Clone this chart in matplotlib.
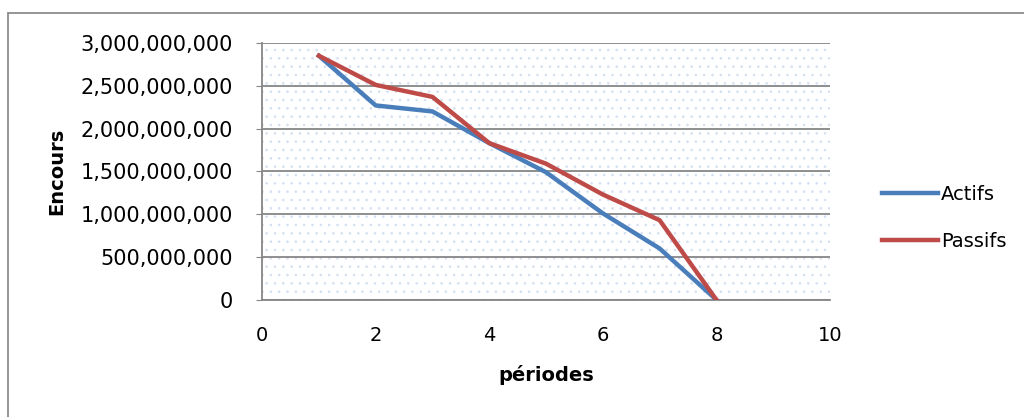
import matplotlib.pyplot as plt
from matplotlib.patches import Rectangle
from matplotlib.ticker import FuncFormatter

periodes = [1, 2, 3, 4, 5, 6, 7, 8]
actifs = [2.85e9, 2.27e9, 2.20e9, 1.83e9, 1.49e9, 1.01e9, 0.60e9, 0]
passifs = [2.85e9, 2.51e9, 2.37e9, 1.83e9, 1.59e9, 1.23e9, 0.93e9, 0]

plt.rcParams['font.family'] = ['DejaVu Sans']
plt.rcParams['hatch.linewidth'] = 0.6

fig = plt.figure(figsize=(10.24, 4.17), dpi=100)
ax = fig.add_axes([0.256, 0.281, 0.5545, 0.616])

# outer chart border (only top and left edges are inside the picture)
fig.patches.append(Rectangle((8 / 1024, -0.1), 1.2, 1.1 - 13 / 417,
                             transform=fig.transFigure, fill=False,
                             edgecolor='#8c8c8c', linewidth=1.3))

# dotted background of the plot area
ax.add_patch(Rectangle((0, 0), 1, 1, transform=ax.transAxes, facecolor='white',
                       edgecolor='#d3dff0', hatch='..', linewidth=0, zorder=0))

ax.plot(periodes, actifs, color='#4a7ebb', linewidth=3.2, label='Actifs', zorder=3)
ax.plot(periodes, passifs, color='#be4b48', linewidth=3.2, label='Passifs', zorder=3)

ax.set_xlim(0, 10)
ax.set_ylim(0, 3e9)
ax.set_xticks([0, 2, 4, 6, 8, 10])
ax.set_yticks([i * 5e8 for i in range(7)])
ax.yaxis.set_major_formatter(FuncFormatter(lambda v, p: f'{int(v):,}'))
ax.tick_params(axis='x', length=0, labelsize=14, pad=19)
ax.tick_params(axis='y', length=4, color='#868686', labelsize=15, pad=17)
ax.grid(axis='y', color='#868686', linewidth=1.3)
ax.set_axisbelow(True)

for s in ['top', 'right']:
    ax.spines[s].set_visible(False)
for s in ['left', 'bottom']:
    ax.spines[s].set_color('#868686')
    ax.spines[s].set_linewidth(1.3)

ax.set_xlabel('périodes', fontsize=14, fontweight='bold', labelpad=14)
ax.set_ylabel('Encours', fontsize=14, fontweight='bold', labelpad=10)

ax.legend(loc='center left', bbox_to_anchor=(882 / 1024, 199 / 417),
          bbox_transform=fig.transFigure, frameon=False, borderpad=0,
          borderaxespad=0, fontsize=14, handlelength=2.9,
          handletextpad=0.15, labelspacing=1.45)

fig.savefig('out.png', dpi=100)
